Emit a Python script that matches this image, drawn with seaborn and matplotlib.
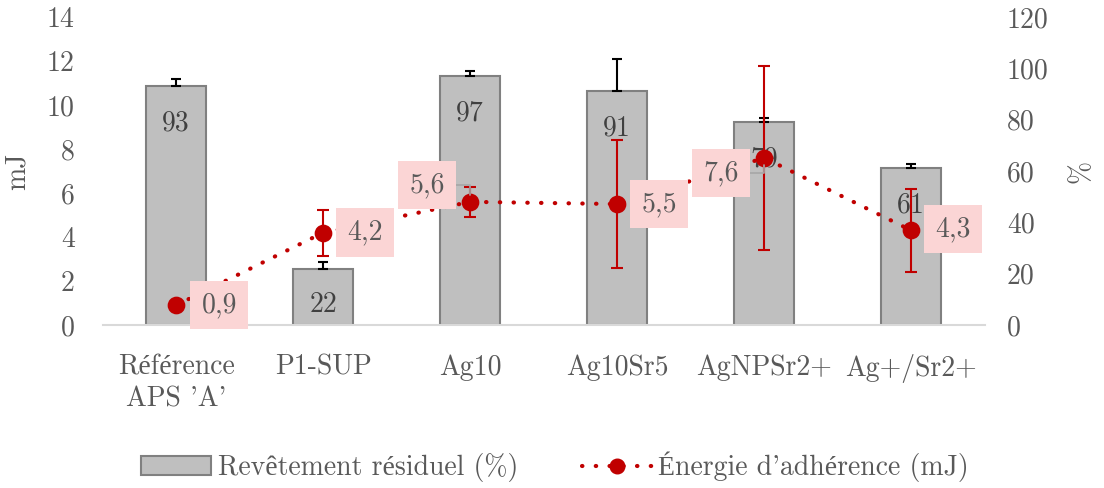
import matplotlib
matplotlib.use("Agg")
import matplotlib.pyplot as plt
from matplotlib.patches import Patch
from matplotlib.lines import Line2D
import seaborn as sns
import numpy as np

# chart data
categories = ["Référence\nAPS 'A'", "P1-SUP", "Ag10", "Ag10Sr5", "AgNPSr2+", "Ag+/Sr2+"]
coating = [93, 22, 97, 91, 79, 61]              # Revêtement résiduel (%)
coating_err = [3.0, 2.6, 2.0, 12.6, 1.5, 1.6]
energy = [0.9, 4.2, 5.6, 5.5, 7.6, 4.3]         # Énergie d'adhérence (mJ)
energy_err = [0.0, 1.05, 0.67, 2.92, 4.17, 1.9]

sns.set_style("white")
plt.rcParams['font.family'] = ['cmr10', 'Liberation Serif']
plt.rcParams['mathtext.fontset'] = 'cm'
plt.rcParams['axes.unicode_minus'] = False

GREY_TXT = '#595959'
RED = '#c00000'
FS = 20

fig = plt.figure(figsize=(11.04, 4.88), dpi=100)
ax = fig.add_axes([0.093, 0.334, 0.799, 0.631])
ax2 = ax.twinx()

# bars (percent scale) on the primary axes, so the line sits above them
sns.barplot(x=categories, y=coating, ax=ax, color='#bfbfbf', edgecolor='#808080',
            linewidth=1.5, width=0.41, errorbar=None, saturation=1, zorder=2)
xpos = np.arange(len(categories))
ax.errorbar(xpos, coating, yerr=[np.zeros(len(coating)), coating_err], fmt='none',
            ecolor='black', elinewidth=1.5, capsize=3.5, capthick=1.5, zorder=3)
for x, v in zip(xpos, coating):
    ax.annotate(f"{v}", (x, v), xytext=(0, -17), textcoords='offset points',
                ha='center', va='top', fontsize=FS, color='#404040', zorder=4)

# energy line on the twin axes
sns.pointplot(x=categories, y=energy, ax=ax2, color=RED, marker='o', markersize=10.5,
              linestyle=(0, (0.1, 3.2)), linewidth=3, dash_capstyle='round', errorbar=None)
mask = np.array(energy_err) > 0
ax2.errorbar(xpos[mask], np.array(energy)[mask], yerr=np.array(energy_err)[mask], fmt='none',
             ecolor=RED, elinewidth=1.5, capsize=4.5, capthick=1.5, zorder=3)

# data labels (pink boxes)
offsets = [(31, 0), (30, 0), (-31, 12), (30, 0), (-31, -11), (30, 1)]
for i, (v, off) in enumerate(zip(energy, offsets)):
    leader = dict(arrowstyle='-', color='#a6a6a6', lw=1.2, shrinkA=0, shrinkB=5,
                  connectionstyle='angle,angleA=0,angleB=90,rad=0') if off[0] < 0 else None
    ax2.annotate(f"{v:.1f}".replace('.', ','), (i, v), xytext=off, textcoords='offset points',
                 ha='center', va='center', fontsize=FS, color=GREY_TXT, zorder=6,
                 bbox=dict(boxstyle='square,pad=0.4', fc='#fbd5d5', ec='none'),
                 arrowprops=leader)

# axes: bars' scale on the right, energy scale on the left
ax.set_ylim(0, 120)
ax.set_yticks(range(0, 121, 20))
ax.yaxis.tick_right()
ax.yaxis.set_label_position('right')
ax.set_ylabel('%', fontsize=FS, color=GREY_TXT, labelpad=14)
ax2.set_ylim(0, 14)
ax2.set_yticks(range(0, 15, 2))
ax2.yaxis.tick_left()
ax2.yaxis.set_label_position('left')
ax2.set_ylabel('mJ', fontsize=FS, color=GREY_TXT, labelpad=12)

ax.set_xlim(-0.5, len(categories) - 0.5)
ax.set_xticks(xpos)
ax.set_xticklabels(categories, fontsize=FS, color=GREY_TXT, linespacing=1.3)
ax.set_xticks(np.arange(-0.5, len(categories)), minor=True)
ax.tick_params(axis='x', which='major', length=0, pad=21)
ax.tick_params(axis='x', which='minor', length=8, width=1.5, color='#d9d9d9', direction='out')
ax.tick_params(axis='y', length=0, pad=16, labelsize=FS, labelcolor=GREY_TXT)
ax2.tick_params(axis='y', length=0, pad=20, labelsize=FS, labelcolor=GREY_TXT)
ax.set_xlabel('')

for s in ['top', 'left', 'right']:
    ax.spines[s].set_visible(False)
ax.spines['bottom'].set_color('#d9d9d9')
ax.spines['bottom'].set_linewidth(1.5)
for s in ax2.spines.values():
    s.set_visible(False)

handles = [Patch(facecolor='#bfbfbf', edgecolor='#808080', linewidth=1.5),
           Line2D([0], [0], color=RED, linestyle=(0, (0.1, 3.2)), linewidth=3,
                  dash_capstyle='round', marker='o', markersize=10.5)]
labels = ["Revêtement résiduel (%)", "Énergie d'adhérence (mJ)"]
fig.legend(handles, labels, loc='center', bbox_to_anchor=(0.503, 0.043), ncol=2,
           frameon=False, fontsize=FS, labelcolor=GREY_TXT, handlelength=2.5,
           handleheight=0.65, columnspacing=2.3, handletextpad=0.25)

fig.savefig('out.png', dpi=100)
